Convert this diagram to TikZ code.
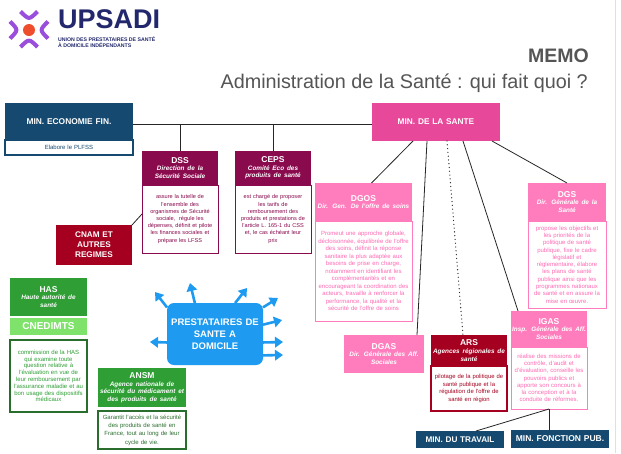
\documentclass[tikz,border=0pt]{standalone}
\usepackage{fontspec}
\setmainfont{Liberation Sans}
\usetikzlibrary{positioning,arrows.meta}

\definecolor{navyblue}{HTML}{16496F}
\definecolor{santepink}{HTML}{E8489A}
\definecolor{dssmaroon}{HTML}{8A0A4E}
\definecolor{softpink}{HTML}{FF7DBD}
\definecolor{pinktext}{HTML}{FF6AB4}
\definecolor{cnamred}{HTML}{A5001F}
\definecolor{hasgreen}{HTML}{2E9E35}
\definecolor{lightgreen}{HTML}{7FE26B}
\definecolor{darkgreen}{HTML}{2A6E2E}
\definecolor{prestablue}{HTML}{1E9BF0}
\definecolor{logonavy}{HTML}{22286B}
\definecolor{logoviolet}{HTML}{9A4EDC}
\definecolor{logoorange}{HTML}{EE4E2B}
\definecolor{titlegray}{HTML}{555555}

\newcommand\subtl[1]{\par{\itshape\fontsize{6.4}{7.6}\selectfont #1\par}}

\tikzset{
  box/.style 2 args={anchor=north west, inner xsep=0pt, inner ysep=1pt, outer sep=0pt,
    align=center, text width=#1pt, minimum height=#2pt},
  hdr/.style={fill=#1, text=white, font=\bfseries\fontsize{8.5}{10}\selectfont},
  body/.style={fill=white, draw=#1, text=#1, line width=0.8pt},
  link/.style={draw=black!85, line width=0.8pt},
  pfeil/.style={draw=prestablue, line width=2.6pt, -{Triangle[width=10.5pt,length=8pt]}},
}

\begin{document}
\begin{tikzpicture}[x=1pt,y=-1pt]
\useasboundingbox[fill=white] (0,0) rectangle (621,453);
\draw[black!12, line width=0.8pt] (615,0) -- (615,453);

% logo
\fill[logoorange] (29,30) circle[radius=6];
\begin{scope}[logoviolet, line width=4pt]
\draw (20.5,11.5) .. controls (29,20) .. (37.5,11.5);
\draw (20.5,47) .. controls (29,38.5) .. (37.5,47);
\draw (10,21.5) .. controls (18.5,30) .. (10,38.5);
\draw (48,21.5) .. controls (39.5,30) .. (48,38.5);
\end{scope}
\node[anchor=base west, inner sep=0pt, text=logonavy, font=\bfseries\fontsize{27}{27}\selectfont] (brand) at (58,28) {UPSADI};
\node[anchor=north west, inner sep=0pt, align=left, text=logonavy, font=\bfseries\fontsize{5.2}{6}\selectfont] (tagline) at (58,37) {UNION DES PRESTATAIRES DE SANTÉ\\ À DOMICILE INDÉPENDANTS};

\node[anchor=base east, inner sep=0pt, text=titlegray, font=\bfseries\fontsize{19.5}{20}\selectfont] (memo) at (589,62) {MEMO};
\node[anchor=base east, inner sep=0pt, text=titlegray, font=\fontsize{19.8}{20}\selectfont] (title) at (588,88) {Administration de la Santé : qui fait quoi ?};

% ministeres
\node[box={128}{37}, hdr=navyblue, font=\bfseries\fontsize{8.4}{10}\selectfont] (econ) at (5,103) {MIN. ECONOMIE FIN.};
\node[box={128}{15}, body=navyblue, line width=1.2pt, font=\fontsize{6}{7}\selectfont, below=0pt of econ] (econbody) {Elabore le PLFSS};
\node[box={128}{38}, hdr=santepink, font=\bfseries\fontsize{8.3}{10}\selectfont] (sante) at (372,103) {MIN. DE LA SANTE};
\node[box={88}{17}, hdr=navyblue, font=\bfseries\fontsize{8.2}{10}\selectfont] (travail) at (416,431) {MIN. DU TRAVAIL};
\node[box={98}{18}, hdr=navyblue, font=\bfseries\fontsize{8.5}{10}\selectfont] (fonction) at (511,430) {MIN. FONCTION PUB.};

% securite sociale
\node[box={76}{34}, hdr=dssmaroon] (dss) at (142,151) {DSS\subtl{Direction de la\\ Sécurité Sociale}};
\node[box={76}{68}, body=dssmaroon, font=\fontsize{5.6}{7.2}\selectfont, below=0pt of dss] (dssbody) {assure la tutelle de\\ l'ensemble des\\ organismes de Sécurité\\ sociale,~ régule les\\ dépenses, définit et pilote\\ les finances sociales et\\ prépare les LFSS};
\node[box={76}{34}, hdr=dssmaroon] (ceps) at (235,151) {CEPS\subtl{Comité Eco des\\ produits de santé}};
\node[box={76}{68}, body=dssmaroon, font=\fontsize{5.6}{7.2}\selectfont, below=0pt of ceps] (cepsbody) {est chargé de proposer\\ les tarifs de\\ remboursement des\\ produits et prestations de\\ l'article L. 165-1 du CSS\\ et, le cas échéant leur\\ prix};
\node[box={76}{40}, hdr=cnamred, font=\bfseries\fontsize{8.2}{10}\selectfont] (cnam) at (56,225) {CNAM ET\\ AUTRES\\ REGIMES};

% directions sante
\node[box={97}{38}, hdr=softpink] (dgos) at (315,183) {DGOS\subtl{Dir. Gen. De l'offre de soins}};
\node[box={97}{100}, body=softpink, text=pinktext, font=\fontsize{6}{7.5}\selectfont, below=0pt of dgos] (dgosbody) {Promeut une approche globale,\\ décloisonnée, équilibrée de l'offre\\ des soins, définit la réponse\\ sanitaire la plus adaptée aux\\ besoins de prise en charge,\\ notamment en identifiant les\\ complémentarités et en\\ encourageant la coordination des\\ acteurs, travaille à renforcer la\\ performance, la qualité et la\\ sécurité de l'offre de soins};
\node[box={78}{38}, hdr=softpink] (dgs) at (528,183) {DGS\subtl{Dir. Générale de la\\ Santé}};
\node[box={78}{87}, body=softpink, text=pinktext, font=\fontsize{6}{7.3}\selectfont, below=0pt of dgs] (dgsbody) {propose les objectifs et\\ les priorités de la\\ politique de santé\\ publique, fixe le cadre\\ législatif et\\ réglementaire, élabore\\ les plans de santé\\ publique ainsi que les\\ programmes nationaux\\ de santé et en assure la\\ mise en œuvre.};
\node[box={80}{38}, hdr=softpink] (dgas) at (344,335) {DGAS\subtl{Dir. Générale des Aff.\\ Sociales}};
\node[box={76}{31}, hdr=cnamred] (ars) at (431,335) {ARS\subtl{Agences régionales de\\ santé}};
\node[box={76}{45}, body=cnamred, line width=2.2pt, font=\fontsize{5.9}{7.6}\selectfont, below=0pt of ars] (arsbody) {pilotage de la politique de\\ santé publique et la\\ régulation de l'offre de\\ santé en région};
\node[box={76}{36}, hdr=softpink] (igas) at (511,311) {IGAS\subtl{Insp. Générale des Aff.\\ Sociales}};
\node[box={76}{62}, body=softpink, text=pinktext, font=\fontsize{6}{7.2}\selectfont, below=0pt of igas] (igasbody) {réalise des missions de\\ contrôle, d'audit et\\ d'évaluation, conseille les\\ pouvoirs publics et\\ apporte son concours à\\ la conception et à la\\ conduite de réformes.};

% agences
\node[box={77}{38}, hdr=hasgreen] (has) at (10,278) {HAS\subtl{Haute autorité de\\ santé}};
\node[box={77}{17}, hdr=lightgreen, font=\bfseries\fontsize{10}{11}\selectfont, below=2pt of has] (cnedimts) {CNEDIMTS};
\node[box={77}{72}, body=darkgreen, text=hasgreen, line width=1.4pt, font=\fontsize{6}{6.8}\selectfont, below=5pt of cnedimts] (hasbody) {commission de la HAS\\ qui examine toute\\ question relative à\\ l'évaluation en vue de\\ leur remboursement par\\ l'assurance maladie et au\\ bon usage des dispositifs\\ médicaux};
\node[box={88}{39}, hdr=hasgreen] (ansm) at (98,368) {ANSM\subtl{Agence nationale de\\ sécurité du médicament et\\ des produits de santé}};
\node[box={88}{38}, body=darkgreen, line width=1.4pt, font=\fontsize{6}{8.3}\selectfont, below=4pt of ansm] (ansmbody) {Garantit l'accès et la sécurité\\ des produits de santé en\\ France, tout au long de leur\\ cycle de vie.};

% prestataires
\node[box={96}{62}, fill=prestablue, rounded corners=7pt, text=white, font=\bfseries\fontsize{9.5}{12}\selectfont] (presta) at (167,303) {PRESTATAIRES DE\\ SANTE A\\ DOMICILE};
\foreach \a/\tx/\ty [count=\i] in {151/155/292, 123/190/283, 57/247/288, 29/278/298, 11/282/320, 350/283/342, 336/283/355, 190/150/342}
{
  \coordinate (tip\i) at (\tx,\ty);
  \draw[pfeil] (presta.\a) -- (tip\i);
}

% liens
\coordinate (bus) at ([yshift=-3pt]econ.east);
\draw[link] (bus) -- (bus -| sante.west);
\draw[link] (dss.north) -- (dss.north |- bus);
\draw[link] (ceps.north) -- (ceps.north |- bus);
\draw[link] (cnam.north east) -- ([yshift=5pt]dssbody.west);
\draw[link] ([xshift=-23pt]sante.south) -- ([xshift=8pt]dgos.north);
\draw[link] ([xshift=-9pt]sante.south) -- ([xshift=33pt]dgas.north);
\draw[link, line width=1.3pt, line cap=round, dash pattern=on 0pt off 3.8pt] ([xshift=11pt]sante.south) -- ([xshift=-6pt]ars.north);
\draw[link] ([xshift=27pt]sante.south) -- ([xshift=-31pt]igas.north);
\draw[link] ([xshift=56pt]sante.south) -- (dgs.north);
\draw[link] (igasbody.south) -- ([xshift=16pt]travail.north);
\draw[link] (igasbody.south) -- (igasbody.south |- fonction.north);
\end{tikzpicture}
\end{document}
